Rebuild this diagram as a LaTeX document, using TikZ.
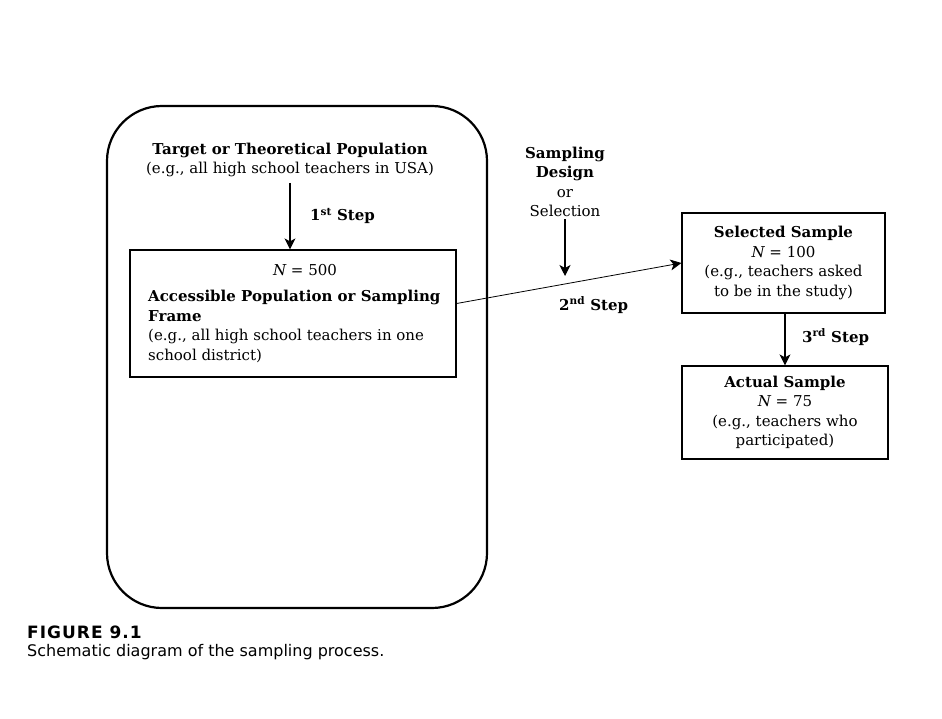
\documentclass[tikz,border=0pt]{standalone}
\usepackage{fontspec}
\setmainfont{DejaVu Serif}
\setsansfont{DejaVu Sans}
\usetikzlibrary{arrows.meta,positioning,calc}
\begin{document}
\begin{tikzpicture}[x=1pt,y=-1pt,
  txt/.style={font=\fontsize{15}{19.5}\selectfont, inner sep=0pt, align=center},
  boxed/.style={draw, line width=1.2pt, inner sep=0pt},
  conn/.style={line width=1.1pt, -{Stealth[length=11pt,width=11pt,inset=3pt]}},
]
\useasboundingbox (0,0) rectangle (942,719);
% big rounded region
\node[draw, line width=2.2pt, rounded corners=55pt, minimum width=380pt, minimum height=502pt, inner sep=0pt] (region) at (297,357) {};
\node[txt] (target) at (290,160) {\textbf{Target or Theoretical Population}\\(e.g., all high school teachers in USA)};
% inner frame
\node[boxed, minimum width=326pt, minimum height=127pt] (frame) at (293,313.5) {};
\node[txt] (n500) at (305,270) {{\itshape N} = 500};
\node[txt, anchor=north west, align=left] (frametxt) at (148,290) {\textbf{Accessible Population or Sampling}\\\textbf{Frame}\\(e.g., all high school teachers in one\\school district)};
\draw[conn] (290,183) -- (frame.north -| 290,0);
\node[txt, anchor=west] (step1) at (310,216) {\textbf{1\textsuperscript{st} Step}};
% sampling design
\node[txt] (samp) at (565,182) {\textbf{Sampling}\\\textbf{Design}\\or\\Selection};
\coordinate (sampend) at (565,276);
\draw[conn] ([yshift=-2pt]samp.south) -- (sampend);
\node[txt, anchor=west] (step2) at (559,305) {\textbf{2\textsuperscript{nd} Step}};
% selected sample
\node[boxed, minimum width=203pt, minimum height=100pt, txt, draw] (sel) at (783.5,263) {\textbf{Selected Sample}\\{\itshape N} = 100\\(e.g., teachers asked\\to be in the study)};
\draw[conn, line width=0.8pt] ([yshift=10pt]frame.east) -- (sel.west);
% actual sample
\node[boxed, minimum width=206pt, minimum height=93pt, txt, draw] (act) at (785,412.5) {\textbf{Actual Sample}\\{\itshape N} = 75\\(e.g., teachers who\\participated)};
\draw[conn] (sel.south -| 785,0) -- (act.north -| 785,0);
\node[txt, anchor=west] (step3) at (802,337) {\textbf{3\textsuperscript{rd} Step}};
% caption
\node[anchor=west, inner sep=0pt, font=\sffamily\bfseries\fontsize{17}{20}\selectfont\addfontfeature{LetterSpace=6}] (fig) at (27,632) {FIGURE 9.1};
\node[anchor=west, inner sep=0pt, font=\sffamily\fontsize{16}{20}\selectfont] (cap) at (27,652) {Schematic diagram of the sampling process.};
\end{tikzpicture}
\end{document}
